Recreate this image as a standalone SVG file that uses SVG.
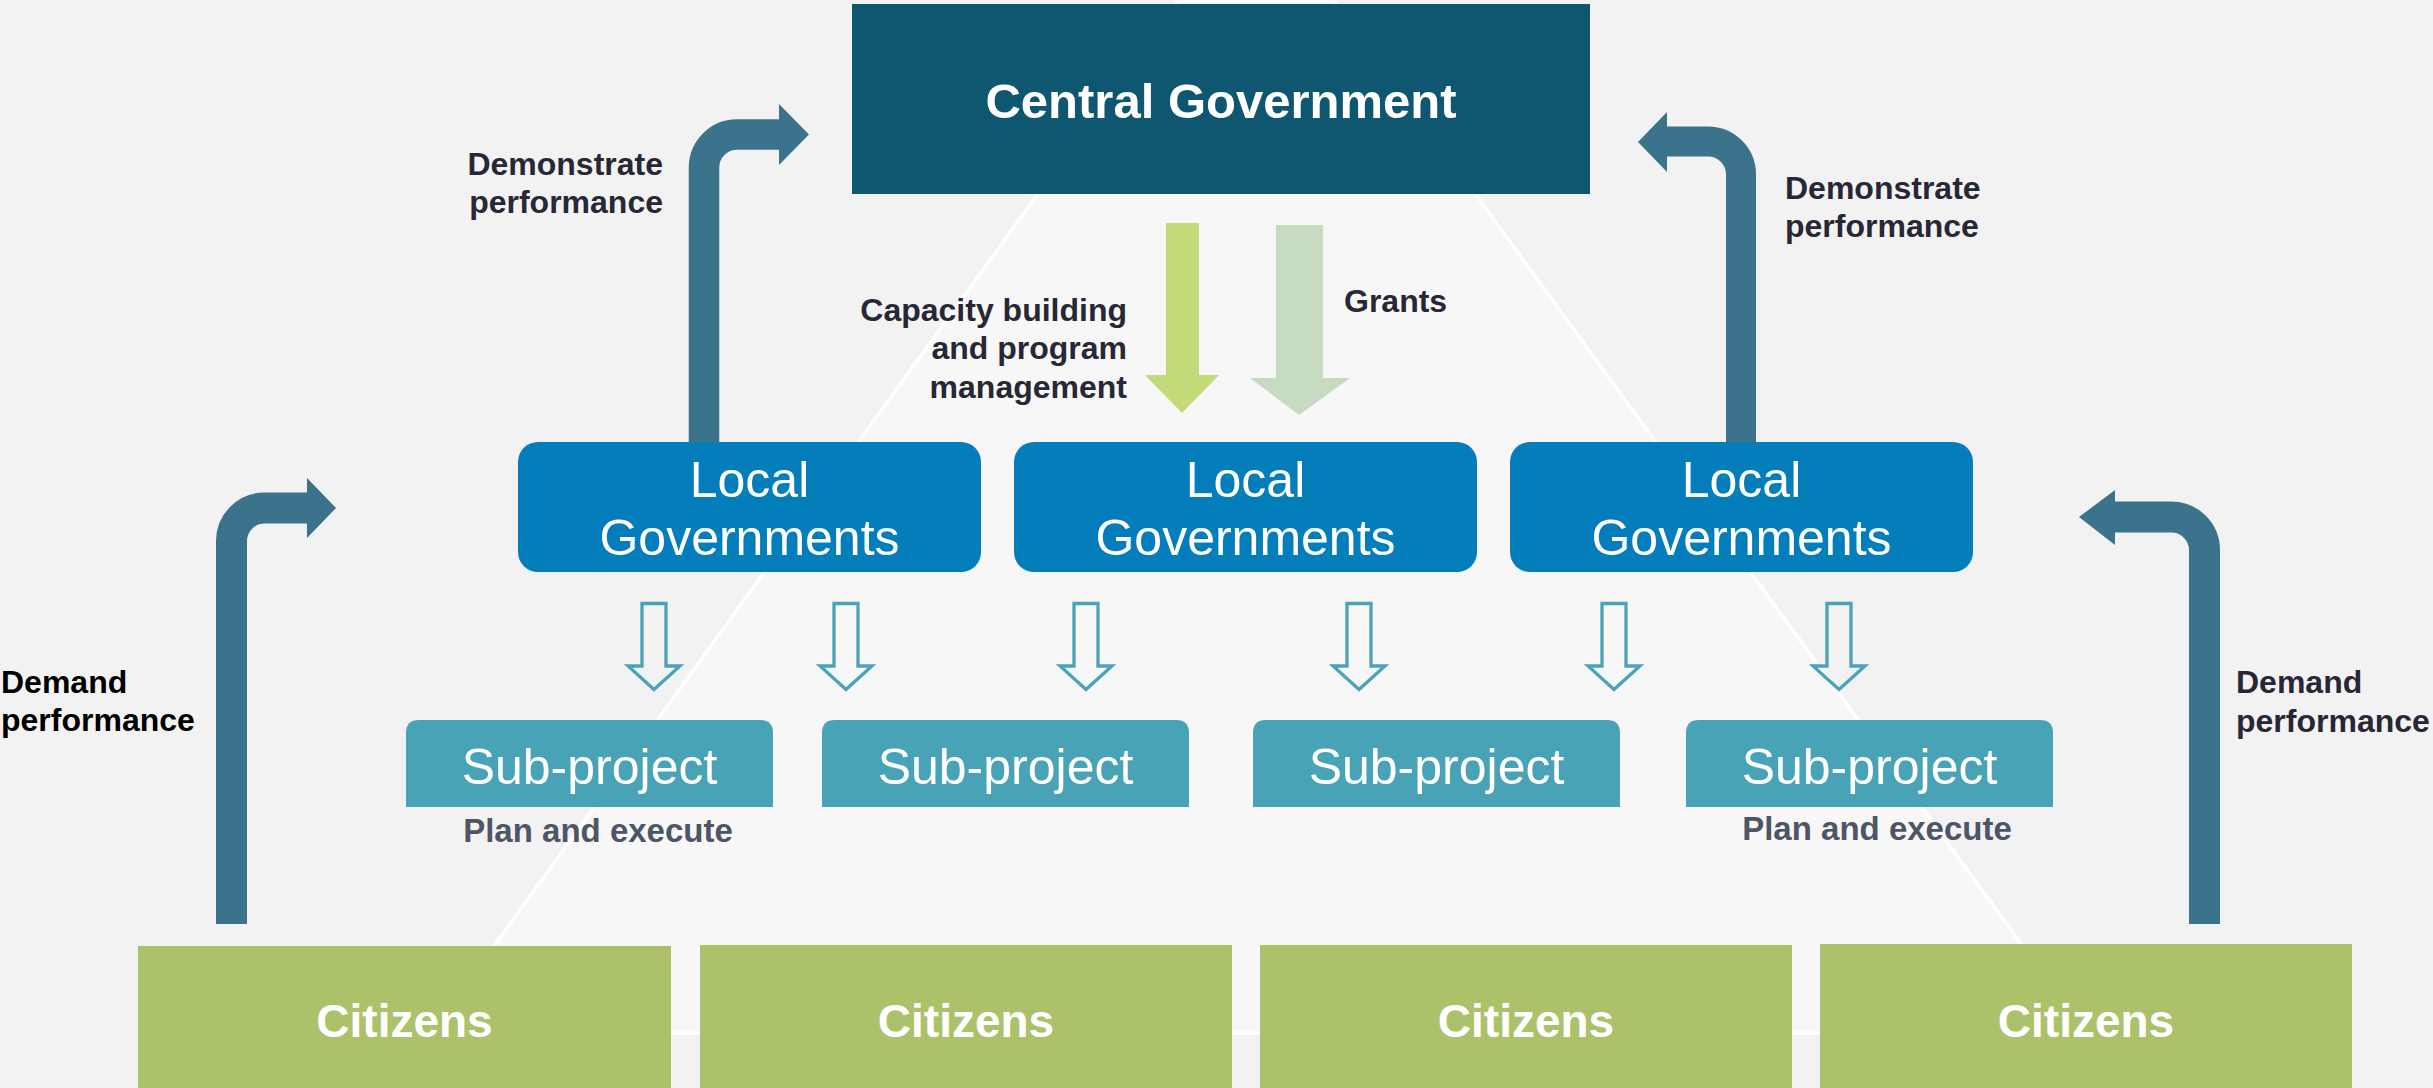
<svg xmlns="http://www.w3.org/2000/svg" xmlns:xlink="http://www.w3.org/1999/xlink" width="2433" height="1088" viewBox="0 0 2433 1088">
  <style>
    .lbl { font-family: "Liberation Sans", Arial, sans-serif; font-weight: bold; font-size: 32px; fill: #272735; }
    .lblk { fill: #000000; }
    .plan { font-family: "Liberation Sans", Arial, sans-serif; font-weight: bold; font-size: 33px; fill: #4d5566; text-anchor: middle; }
    .central { fill: #0f5770; }
    .central-t { font-family: "Liberation Sans", Arial, sans-serif; font-weight: bold; font-size: 49px; fill: #ffffff; text-anchor: middle; }
    .lg { fill: #047ebb; }
    .lg-t { font-family: "Liberation Sans", Arial, sans-serif; font-weight: normal; font-size: 50px; fill: #ffffff; text-anchor: middle; }
    .sp { fill: #49a3b6; }
    .sp-t { font-family: "Liberation Sans", Arial, sans-serif; font-weight: normal; font-size: 50px; fill: #ffffff; text-anchor: middle; }
    .cit { fill: #a8bf64; fill-opacity: 0.96; }
    .cit-t { font-family: "Liberation Sans", Arial, sans-serif; font-weight: bold; font-size: 46px; fill: #ffffff; text-anchor: middle; }
    .flow { fill: none; stroke: #3c738c; stroke-linecap: butt; }
    .head { fill: #3c738c; }
    .hollow { fill: none; stroke: #4aa3b8; stroke-width: 3.3; stroke-linejoin: miter; }
  </style>
  <defs>
    <path id="hol" d="M-12,603.5 H12 V666 H26 L0,689.5 L-26,666 H-12 Z"/>
  </defs>

  <!-- background -->
  <rect x="0" y="0" width="2433" height="1088" fill="#f2f2f2"/>
  <polygon points="1178,0 1334,0 2086,1033 431,1033" fill="#f7f7f7" stroke="#ffffff" stroke-width="3.5"/>

  <!-- connectors -->
  <g id="connectors">
    <!-- left demonstrate performance -->
    <path class="flow" stroke-width="30.5" d="M704,442 V167.5 A33,33 0 0 1 737,134.5 H780"/>
    <polygon class="head" points="779,104 809,134.5 779,165"/>
    <!-- right demonstrate performance -->
    <path class="flow" stroke-width="30" d="M1741,442 V174.5 A33,33 0 0 0 1708,141.5 H1666"/>
    <polygon class="head" points="1667,112 1638,142 1667,172"/>
    <!-- left demand performance -->
    <path class="flow" stroke-width="31" d="M231.5,924 V541 A33,33 0 0 1 264.5,508 H308"/>
    <polygon class="head" points="307,478 336,508 307,538"/>
    <!-- right demand performance -->
    <path class="flow" stroke-width="31" d="M2204.5,924 V550 A33,33 0 0 0 2171.5,517 H2114"/>
    <polygon class="head" points="2115,490 2079,517 2115,545"/>
    <!-- capacity building arrow -->
    <polygon fill="#c3da78" points="1166,223 1199,223 1199,375 1219,375 1182,413 1145,375 1166,375"/>
    <!-- grants arrow -->
    <polygon fill="#c7dbc0" points="1276,225 1323,225 1323,378 1350,378 1299,415 1250,378 1276,378"/>
    <!-- hollow arrows to sub-projects -->
    <use xlink:href="#hol" href="#hol" class="hollow" transform="translate(654,0)"/>
    <use xlink:href="#hol" href="#hol" class="hollow" transform="translate(846,0)"/>
    <use xlink:href="#hol" href="#hol" class="hollow" transform="translate(1086,0)"/>
    <use xlink:href="#hol" href="#hol" class="hollow" transform="translate(1359,0)"/>
    <use xlink:href="#hol" href="#hol" class="hollow" transform="translate(1614,0)"/>
    <use xlink:href="#hol" href="#hol" class="hollow" transform="translate(1839,0)"/>
  </g>

  <!-- labels -->
  <g id="labels">
    <text class="lbl" text-anchor="end" x="663" y="175">Demonstrate</text>
    <text class="lbl" text-anchor="end" x="663" y="213">performance</text>
    <text class="lbl" x="1785" y="199">Demonstrate</text>
    <text class="lbl" x="1785" y="237">performance</text>
    <text class="lbl" text-anchor="end" x="1127" y="321">Capacity building</text>
    <text class="lbl" text-anchor="end" x="1127" y="359">and program</text>
    <text class="lbl" text-anchor="end" x="1127" y="398">management</text>
    <text class="lbl" x="1344" y="312">Grants</text>
    <text class="lbl lblk" x="1" y="693">Demand</text>
    <text class="lbl lblk" x="1" y="731">performance</text>
    <text class="lbl" x="2236" y="693">Demand</text>
    <text class="lbl" x="2236" y="732">performance</text>
    <text class="plan" x="598" y="842">Plan and execute</text>
    <text class="plan" x="1877" y="840">Plan and execute</text>
  </g>

  <!-- nodes -->
  <g id="central">
    <rect class="central" x="852" y="4" width="738" height="190"/>
    <text class="central-t" x="1221" y="118">Central Government</text>
  </g>

  <g id="lg1">
    <rect class="lg" x="518" y="442" width="463" height="130" rx="20" ry="20"/>
    <text class="lg-t" x="749.5" y="497">Local</text>
    <text class="lg-t" x="749.5" y="555">Governments</text>
  </g>
  <g id="lg2">
    <rect class="lg" x="1014" y="442" width="463" height="130" rx="20" ry="20"/>
    <text class="lg-t" x="1245.5" y="497">Local</text>
    <text class="lg-t" x="1245.5" y="555">Governments</text>
  </g>
  <g id="lg3">
    <rect class="lg" x="1510" y="442" width="463" height="130" rx="20" ry="20"/>
    <text class="lg-t" x="1741.5" y="497">Local</text>
    <text class="lg-t" x="1741.5" y="555">Governments</text>
  </g>

  <g id="sp1">
    <path class="sp" d="M406,807 V733 Q406,720 419,720 H760 Q773,720 773,733 V807 Z"/>
    <text class="sp-t" x="589.5" y="784">Sub-project</text>
  </g>
  <g id="sp2">
    <path class="sp" d="M822,807 V733 Q822,720 835,720 H1176 Q1189,720 1189,733 V807 Z"/>
    <text class="sp-t" x="1005.5" y="784">Sub-project</text>
  </g>
  <g id="sp3">
    <path class="sp" d="M1253,807 V733 Q1253,720 1266,720 H1607 Q1620,720 1620,733 V807 Z"/>
    <text class="sp-t" x="1436.5" y="784">Sub-project</text>
  </g>
  <g id="sp4">
    <path class="sp" d="M1686,807 V733 Q1686,720 1699,720 H2040 Q2053,720 2053,733 V807 Z"/>
    <text class="sp-t" x="1869.5" y="784">Sub-project</text>
  </g>

  <g id="cit1">
    <rect class="cit" x="138" y="946" width="533" height="142"/>
    <text class="cit-t" x="404.5" y="1037">Citizens</text>
  </g>
  <g id="cit2">
    <rect class="cit" x="700" y="945" width="532" height="143"/>
    <text class="cit-t" x="966" y="1037">Citizens</text>
  </g>
  <g id="cit3">
    <rect class="cit" x="1260" y="945" width="532" height="143"/>
    <text class="cit-t" x="1526" y="1037">Citizens</text>
  </g>
  <g id="cit4">
    <rect class="cit" x="1820" y="944" width="532" height="144"/>
    <text class="cit-t" x="2086" y="1037">Citizens</text>
  </g>
</svg>
